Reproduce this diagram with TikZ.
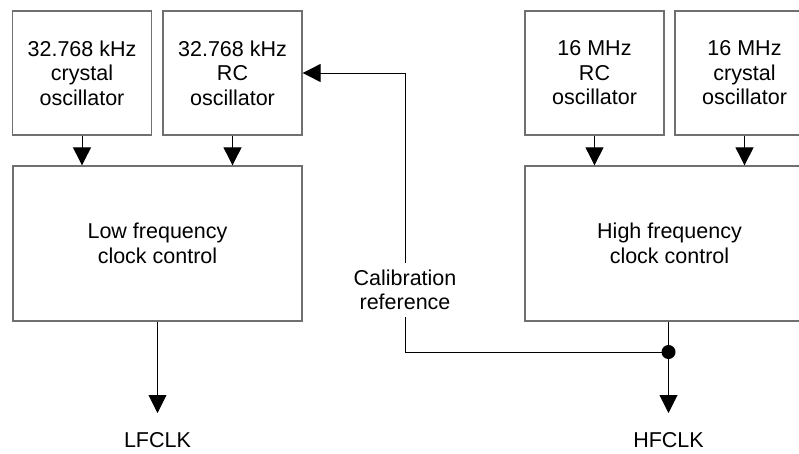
\documentclass[tikz,border=0pt]{standalone}
\usepackage{fontspec}
\setmainfont{Liberation Sans}
\usetikzlibrary{arrows.meta}
\begin{document}
\begin{tikzpicture}[x=1pt,y=-1pt,
  font=\fontsize{21.5pt}{24.5pt}\selectfont,
  osc/.style={draw=boxgray, line width=1.3pt, minimum width=139pt, minimum height=124pt, align=center, inner sep=0pt},
  ctrl/.style={draw=boxgray, line width=1.3pt, minimum width=289pt, minimum height=155pt, align=center, inner sep=0pt},
  lbl/.style={align=center, inner xsep=0pt},
  conn/.style={draw=black, line width=0.9pt},
  arr/.style={conn, -{Triangle[length=18pt, width=18pt]}},
  junction/.style={circle, fill=black, inner sep=0pt, minimum size=14pt}]
\definecolor{boxgray}{HTML}{707070}
\useasboundingbox (0,0) rectangle (799,453);
\clip (0,0) rectangle (799,453);

% low frequency side
\node[osc] (xlf) at (82,73) {32.768 kHz\\crystal\\oscillator};
\node[osc] (rclf) at (232.5,73) {32.768 kHz\\RC\\oscillator};
\node[ctrl] (lf) at (157.5,243.5) {Low frequency\\clock control};

% high frequency side
\node[osc] (rchf) at (594.5,73) {16 MHz\\RC\\oscillator};
\node[osc] (xhf) at (744.5,73) {16 MHz\\crystal\\oscillator};
\node[ctrl] (hf) at (669.5,243.5) {High frequency\\clock control};

% outputs
\node[lbl, anchor=north, inner ysep=19pt] (lfclk) at (157.5,413) {LFCLK};
\node[lbl, anchor=north, inner ysep=19pt] (hfclk) at (668.5,413) {HFCLK};
\node[lbl, inner ysep=7pt] (cal) at (405,290) {Calibration\\reference};
\node[junction] (j) at (668.5,352) {};

% oscillator feeds
\draw[arr] (xlf.south) -- (xlf.south |- lf.north);
\draw[arr] (rclf.south) -- (rclf.south |- lf.north);
\draw[arr] (rchf.south) -- (rchf.south |- hf.north);
\draw[arr] (xhf.south) -- (xhf.south |- hf.north);

% clock outputs
\draw[arr] (lf.south) -- (lfclk.north);
\draw[conn] (j.center |- hf.south) -- (j.center);
\draw[arr] (j.center) -- (hfclk.north);

% calibration path back to the RC oscillator
\draw[conn] (j.center) -| (cal.south);
\draw[arr] (cal.north) |- (rclf.east);
\end{tikzpicture}
\end{document}
